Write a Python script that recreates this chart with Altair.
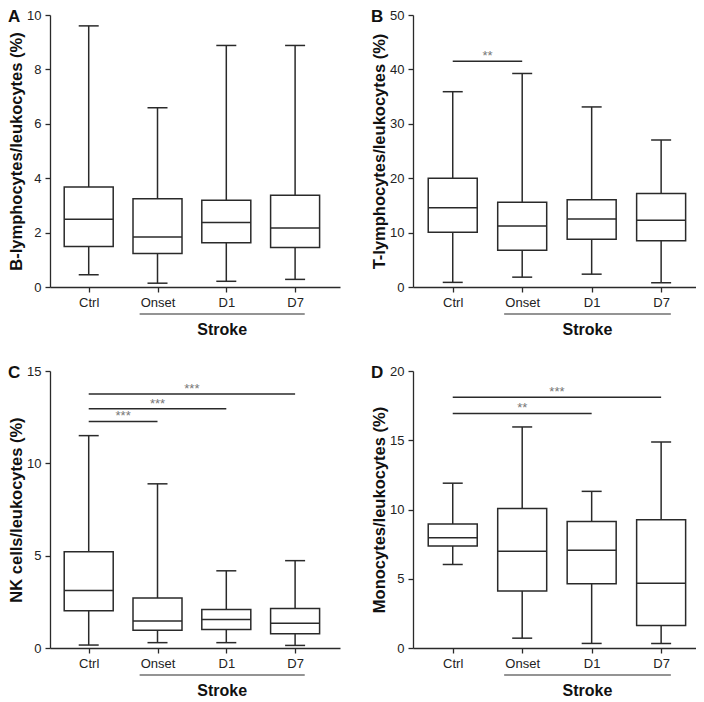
import altair as alt
import pandas as pd

groups = ["Ctrl", "Onset", "D1", "D7"]

# Panel A: B-lymphocytes
a_min = [0.45, 0.14, 0.21, 0.28]
a_q1 = [1.49, 1.23, 1.63, 1.45]
a_med = [2.49, 1.84, 2.37, 2.17]
a_q3 = [3.68, 3.24, 3.19, 3.37]
a_max = [9.60, 6.59, 8.88, 8.88]
a_sig = []

# Panel B: T-lymphocytes
b_min = [0.85, 1.81, 2.36, 0.80]
b_q1 = [10.08, 6.76, 8.76, 8.50]
b_med = [14.55, 11.23, 12.50, 12.26]
b_q3 = [20.0, 15.58, 16.06, 17.20]
b_max = [35.9, 39.25, 33.1, 27.0]
b_sig = [("Ctrl", "Onset", 41.5, "**")]

# Panel C: NK cells
c_min = [0.16, 0.29, 0.29, 0.14]
c_q1 = [2.02, 0.96, 1.00, 0.77]
c_med = [3.11, 1.46, 1.55, 1.34]
c_q3 = [5.21, 2.71, 2.09, 2.14]
c_max = [11.5, 8.89, 4.18, 4.73]
c_sig = [("Ctrl", "Onset", 12.27, "***"), ("Ctrl", "D1", 12.95, "***"), ("Ctrl", "D7", 13.75, "***")]

# Panel D: Monocytes
d_min = [6.03, 0.71, 0.33, 0.33]
d_q1 = [7.36, 4.11, 4.63, 1.62]
d_med = [7.96, 6.98, 7.05, 4.68]
d_q3 = [8.95, 10.07, 9.14, 9.26]
d_max = [11.9, 15.96, 11.31, 14.87]
d_sig = [("Ctrl", "D1", 16.94, "**"), ("Ctrl", "D7", 18.1, "***")]

LINE = "#2a2a2a"
FONT = "Liberation Sans"


def panel(letter, ytitle, ymax, ystep, mins, q1s, meds, q3s, maxs, sigs,
          w, h, xdom):
    df = pd.DataFrame({
        "idx": list(range(len(groups))), "group": groups,
        "mn": mins, "q1": q1s, "med": meds, "q3": q3s, "mx": maxs,
    })
    xs = alt.Scale(domain=xdom, nice=False, zero=False)
    ys = alt.Scale(domain=[0, ymax], nice=False)
    label_expr = "[" + ",".join("'%s'" % g for g in groups) + "][datum.value]"
    xax = alt.Axis(values=list(range(len(groups))), labelExpr=label_expr, title=None,
                   grid=False, tickSize=5, labelPadding=4)
    yax = alt.Axis(values=list(range(0, ymax + 1, ystep)), title=ytitle, grid=False,
                   tickSize=5, labelPadding=4, titlePadding=2)

    base = alt.Chart(df).encode(x=alt.X("idx:Q", scale=xs, axis=xax))
    whisk = base.mark_rule(color=LINE, strokeWidth=1.5).encode(
        y=alt.Y("mn:Q", scale=ys, axis=yax), y2="mx:Q")
    box = base.mark_bar(size=49, fill="white", stroke=LINE, strokeWidth=1.5).encode(
        y="q1:Q", y2="q3:Q")
    med = base.mark_tick(size=49, thickness=1.5, color=LINE, orient="horizontal", opacity=1).encode(y="med:Q")
    cap_lo = base.mark_tick(size=20, thickness=1.5, color=LINE, orient="horizontal", opacity=1).encode(y="mn:Q")
    cap_hi = base.mark_tick(size=20, thickness=1.5, color=LINE, orient="horizontal", opacity=1).encode(y="mx:Q")

    layers = [whisk, box, med, cap_lo, cap_hi]

    if sigs:
        sdf = pd.DataFrame({
            "x1": [groups.index(s[0]) for s in sigs],
            "x2": [groups.index(s[1]) for s in sigs],
            "y": [s[2] for s in sigs],
            "lab": [s[3] for s in sigs],
        })
        sdf["mid"] = (sdf["x1"] + sdf["x2"]) / 2
        srule = alt.Chart(sdf).mark_rule(color=LINE, strokeWidth=1.5).encode(
            x="x1:Q", x2="x2:Q", y="y:Q")
        stext = alt.Chart(sdf).mark_text(fontSize=13, color="#777777", baseline="alphabetic",
                                          dy=-1, font=FONT).encode(
            x="mid:Q", y="y:Q", text="lab:N")
        layers += [srule, stext]

    one = pd.DataFrame({"t": [letter]})
    stroke_line = alt.Chart(one).mark_rule(color=LINE, strokeWidth=1.2).encode(
        x=alt.X(datum=0.74), x2=alt.X2(datum=3.14), y=alt.value(h + 27))
    stroke_txt = alt.Chart(one).mark_text(text="Stroke", fontSize=16, fontWeight="bold",
                                          font=FONT, color="#111", baseline="middle").encode(
        x=alt.X(datum=1.94), y=alt.value(h + 43))
    letter_txt = alt.Chart(one).mark_text(fontSize=17, fontWeight="bold", font=FONT,
                                          color="#111", align="left", baseline="top").encode(
        x=alt.value(-42), y=alt.value(-6), text="t:N")
    layers += [stroke_line, stroke_txt, letter_txt]

    return alt.layer(*layers).properties(width=w, height=h)


LEFT_DOM = [-0.49, 3.58]
RIGHT_DOM = [-0.5, 3.43]

pA = panel("A", "B-lymphocytes/leukocytes (%)", 10, 2, a_min, a_q1, a_med, a_q3, a_max, a_sig,
           290, 272, LEFT_DOM)
pB = panel("B", "T-lymphocytes/leukocytes (%)", 50, 10, b_min, b_q1, b_med, b_q3, b_max, b_sig,
           283, 272, RIGHT_DOM)
pC = panel("C", "NK cells/leukocytes (%)", 15, 5, c_min, c_q1, c_med, c_q3, c_max, c_sig,
           290, 277, LEFT_DOM)
pD = panel("D", "Monocytes/leukocytes (%)", 20, 5, d_min, d_q1, d_med, d_q3, d_max, d_sig,
           283, 277, RIGHT_DOM)

chart = alt.concat(
    pA, pB, pC, pD, columns=2,
    spacing={"row": 84, "column": 73}, bounds="flush",
).properties(padding=0).configure_view(stroke=None).configure_axis(
    domainColor=LINE, tickColor=LINE, domainWidth=1.3, tickWidth=1.3,
    labelFont=FONT, labelFontSize=13, labelColor="#222",
    titleFont=FONT, titleFontSize=16.5, titleFontWeight="bold", titleColor="#111",
)

chart.save("out.html", embed_options={"renderer": "svg", "actions": False})
